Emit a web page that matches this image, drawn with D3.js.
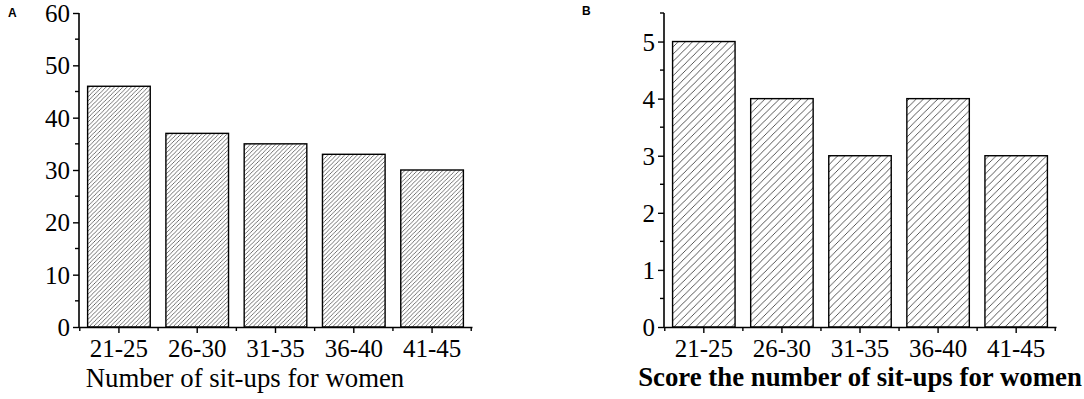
<!DOCTYPE html>
<html><head><meta charset="utf-8">
<script src="https://cdn.jsdelivr.net/npm/d3@7"></script>
<style>
body{margin:0;background:#fff;}
svg{display:block;}
text{font-family:"Liberation Serif","Times New Roman",serif;fill:#000;}
</style></head>
<body><svg id="c" width="1084" height="399"></svg>
<script>
const categories = ["21-25","26-30","31-35","36-40","41-45"];
const valuesA = [46, 37, 35, 33, 30];
const valuesB = [5, 4, 3, 4, 3];
const yTicksA = [0,10,20,30,40,50,60];
const yTicksB = [0,1,2,3,4,5];
const titleA = "Number of sit-ups for women";
const titleB = "Score the number of sit-ups for women";

const svg = d3.select("#c");
const defs = svg.append("defs");
function hatch(id, s, w){
  const p = defs.append("pattern").attr("id", id).attr("patternUnits","userSpaceOnUse")
    .attr("width", s).attr("height", s);
  p.append("rect").attr("width", s).attr("height", s).attr("fill","#fff");
  p.append("path").attr("d", `M${-s},${s} L${s},${-s} M0,${2*s} L${2*s},0 M${-s},${2*s} L${2*s},${-s}`)
    .attr("stroke","#444").attr("stroke-width",w);
}
hatch("hA", 4.2, 0.75);
hatch("hB", 7.2, 0.9);

function panel(cfg){
  const g = svg.append("g");
  const x = d3.scaleBand().domain(categories).range([cfg.x0, cfg.x1]).paddingInner(0.2).paddingOuter(0.11);
  const y = d3.scaleLinear().domain(cfg.domain).range([327, 13]);
  g.selectAll("rect.bar").data(cfg.values).join("rect")
    .attr("x", (d,i)=>x(categories[i])).attr("width", x.bandwidth())
    .attr("y", d=>y(d)).attr("height", d=>y(0)-y(d))
    .attr("fill", `url(#${cfg.pat})`).attr("stroke","#000").attr("stroke-width",1.4);
  const ya = d3.axisLeft(y).tickValues(cfg.yticks).tickSize(6).tickPadding(3).tickFormat(d3.format("d"));
  const yg = g.append("g").attr("transform",`translate(${cfg.x0},0)`).call(ya);
  yg.select(".domain").attr("d", `M0,${y(cfg.domain[1])}V${y(0)}`).attr("stroke-width",1.6);
  yg.selectAll(".tick line").attr("stroke-width",1.4);
  yg.selectAll("text").style("font-size","25px").attr("dy","0.34em");
  const minors = d3.range(cfg.minorStep, cfg.domain[1]+1e-9, cfg.minorStep*2);
  yg.selectAll("line.minor").data(minors).join("line").attr("class","minor")
    .attr("x1",-4).attr("x2",0).attr("y1",d=>y(d)).attr("y2",d=>y(d)).attr("stroke","#000").attr("stroke-width",1.4);
  const xa = d3.axisBottom(x).tickSize(6).tickPadding(6).tickSizeOuter(0);
  const xg = g.append("g").attr("transform",`translate(0,${y(0)})`).call(xa);
  xg.select(".domain").attr("stroke-width",1.6);
  xg.selectAll(".tick line").attr("stroke-width",1.4);
  xg.selectAll("text").style("font-size","25px");
  const bounds = d3.range(categories.length+1).map(i=> x(categories[0]) - x.step()*x.paddingInner()/2 + i*x.step());
  xg.selectAll("line.minor").data(bounds).join("line").attr("class","minor")
    .attr("x1",d=>d).attr("x2",d=>d).attr("y1",0).attr("y2",4).attr("stroke","#000").attr("stroke-width",1.4);
  g.append("text").attr("x", cfg.tx).attr("y", cfg.ty).attr("text-anchor","middle")
    .style("font-size","26.8px").style("font-weight", cfg.bold?"bold":"normal").text(cfg.title);
  g.append("text").attr("x", cfg.lx).attr("y", cfg.ly).style("font-family","'Liberation Sans',Arial,sans-serif")
    .style("font-size","12px").style("font-weight","bold").text(cfg.label);
}
panel({x0:79, x1:472, domain:[0,60], values:valuesA, yticks:yTicksA, minorStep:5, pat:"hA",
  title:titleA, tx:245, ty:387, bold:false, label:"A", lx:8, ly:17});
panel({x0:664, x1:1056, domain:[0,5.5], values:valuesB, yticks:yTicksB, minorStep:0.5, pat:"hB",
  title:titleB, tx:860, ty:386, bold:true, label:"B", lx:582, ly:15});
</script></body></html>
